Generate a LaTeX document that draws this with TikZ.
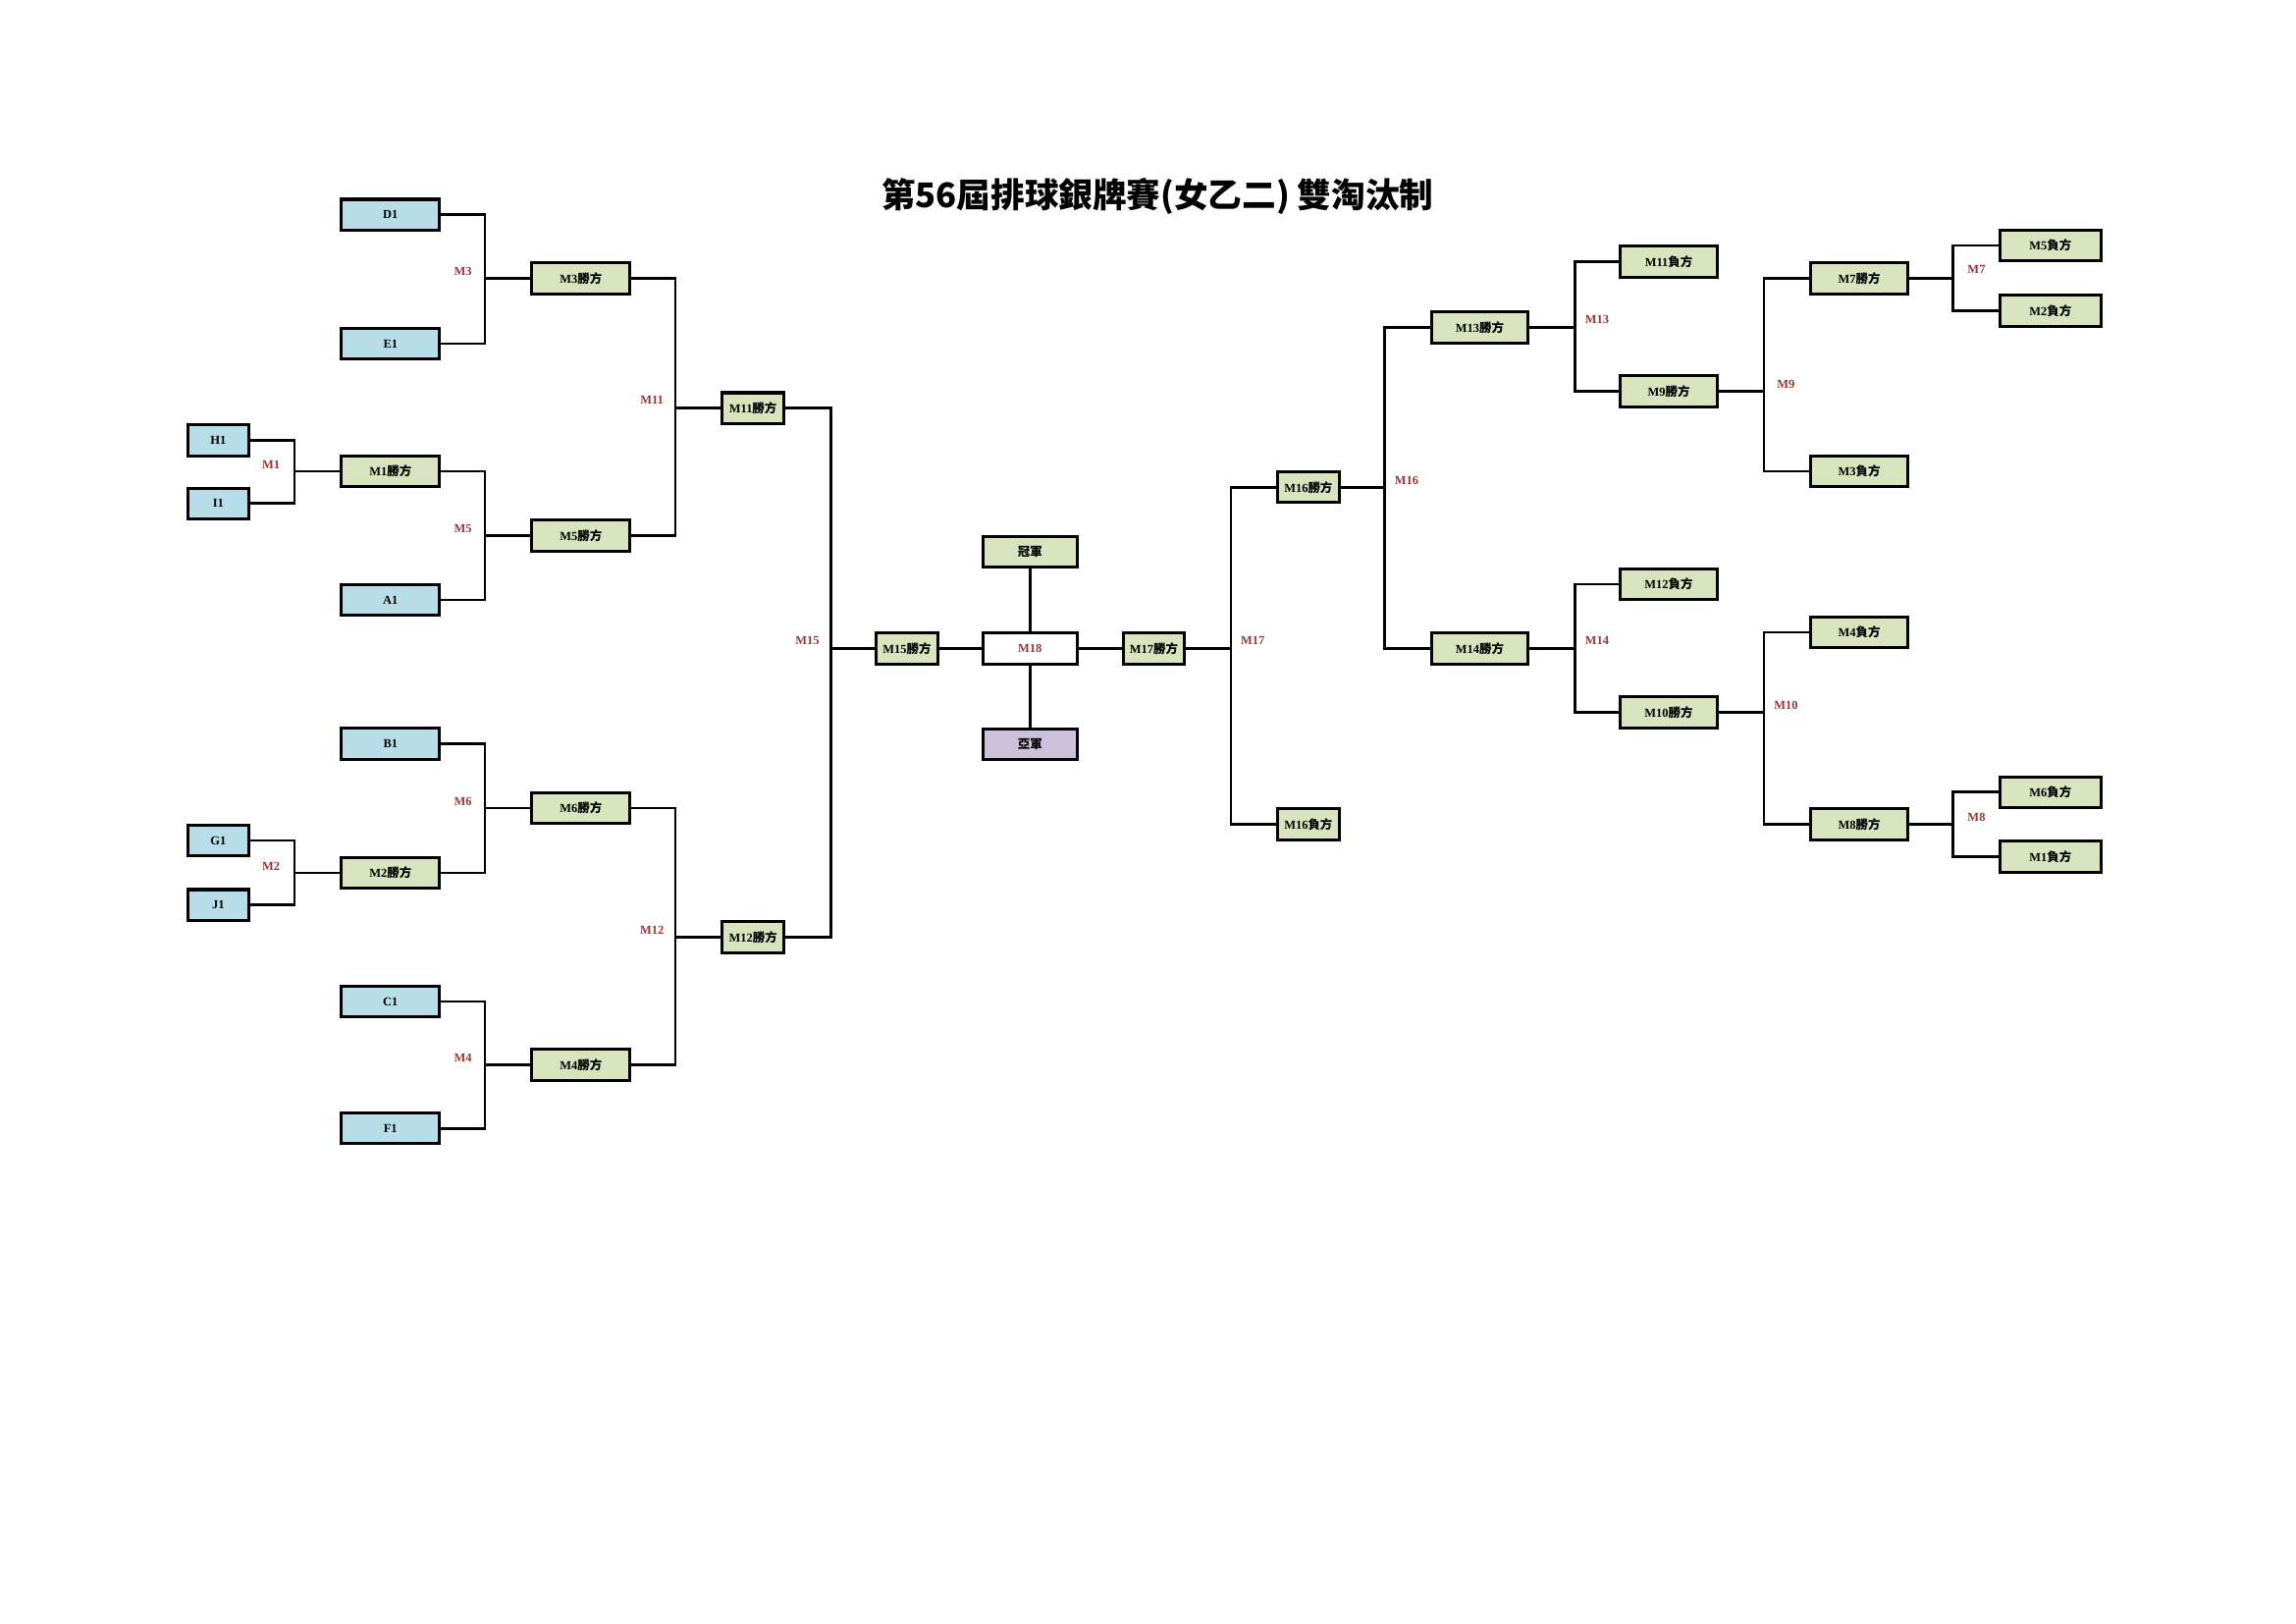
\documentclass[tikz,border=0pt]{standalone}
\usepackage{fontspec}
\setmainfont{Liberation Serif}
\newfontfamily\cjk{Noto Sans CJK TC}
\definecolor{bxblue}{HTML}{B7DEE8}
\definecolor{bxgreen}{HTML}{D7E4BD}
\definecolor{bxpurple}{HTML}{CCC0DA}
\definecolor{labred}{HTML}{953735}
\newcommand\mlab[2]{\textbf{#1}{\cjk\bfseries #2}}
\begin{document}
\begin{tikzpicture}[x=0.18952mm,y=-0.18952mm,
  bx/.style={draw, line width=1.1pt, minimum height=3.98mm, inner sep=0pt,
    font=\fontsize{4.5}{5}\selectfont\bfseries},
  wA/.style={bx, minimum width=12.70mm},
  wN/.style={bx, minimum width=7.96mm},
  wC/.style={bx, minimum width=12.13mm},
  wR/.style={bx, minimum width=12.51mm},
  wE/.style={bx, minimum width=13.08mm},
  team/.style={fill=bxblue},
  win/.style={fill=bxgreen},
  lab/.style={text=labred, font=\fontsize{4.5}{5}\selectfont\bfseries, inner sep=0pt},
  con/.style={line width=0.9pt}
]
\useasboundingbox (0,0) rectangle (1567.1,1108.1);

% title
\node[font=\cjk\bfseries\fontsize{12.5}{14}\selectfont, inner sep=0pt] (title) at (790,134) {第56屆排球銀牌賽(女乙二) 雙淘汰制};

% left: teams
\node[wA,team] (D1) at (266.5,146.5) {D1};
\node[wA,team] (E1) at (266.5,234.5) {E1};
\node[wA,team] (A1) at (266.5,409.5) {A1};
\node[wA,team] (B1) at (266.5,507.5) {B1};
\node[wA,team] (C1) at (266.5,683.5) {C1};
\node[wA,team] (F1) at (266.5,770) {F1};
\node[wN,team] (H1) at (149,300.5) {H1};
\node[wN,team] (I1) at (149,343.5) {I1};
\node[wN,team] (G1) at (149,573.5) {G1};
\node[wN,team] (J1) at (149,617.5) {J1};

% left: winners
\node[wA,win] (M1w) at (266.5,321.5) {\mlab{M1}{勝方}};
\node[wA,win] (M2w) at (266.5,595.5) {\mlab{M2}{勝方}};
\node[wA,win] (M3w) at (396.5,190) {\mlab{M3}{勝方}};
\node[wA,win] (M5w) at (396.5,365.5) {\mlab{M5}{勝方}};
\node[wA,win] (M6w) at (396.5,551.5) {\mlab{M6}{勝方}};
\node[wA,win] (M4w) at (396.5,726.5) {\mlab{M4}{勝方}};
\node[wN,win] (M11w) at (514,278.5) {\mlab{M11}{勝方}};
\node[wN,win] (M12w) at (514,639.5) {\mlab{M12}{勝方}};
\node[wN,win] (M15w) at (619,442.5) {\mlab{M15}{勝方}};

% center
\node[wC,win] (champ) at (703,376.5) {{\cjk\bfseries 冠軍}};
\node[wC,fill=white,text=labred] (M18) at (703,442.5) {M18};
\node[wC,fill=bxpurple] (runner) at (703,508) {{\cjk\bfseries 亞軍}};
\node[wN,win] (M17w) at (787.5,442.5) {\mlab{M17}{勝方}};
\node[wN,win] (M16w) at (893,332.5) {\mlab{M16}{勝方}};
\node[wN,win] (M16l) at (893,562.5) {\mlab{M16}{負方}};

% right
\node[wR,win] (M13w) at (1010,223.5) {\mlab{M13}{勝方}};
\node[wR,win] (M14w) at (1010,442.5) {\mlab{M14}{勝方}};
\node[wR,win] (M11l) at (1139,178.5) {\mlab{M11}{負方}};
\node[wR,win] (M9w) at (1139,267) {\mlab{M9}{勝方}};
\node[wR,win] (M12l) at (1139,398.5) {\mlab{M12}{負方}};
\node[wR,win] (M10w) at (1139,486) {\mlab{M10}{勝方}};
\node[wR,win] (M7w) at (1269,190) {\mlab{M7}{勝方}};
\node[wR,win] (M3l) at (1269,321.5) {\mlab{M3}{負方}};
\node[wR,win] (M4l) at (1269,431.5) {\mlab{M4}{負方}};
\node[wR,win] (M8w) at (1269,562.5) {\mlab{M8}{勝方}};
\node[wE,win] (M5l) at (1399.5,167.5) {\mlab{M5}{負方}};
\node[wE,win] (M2l) at (1399.5,212) {\mlab{M2}{負方}};
\node[wE,win] (M6l) at (1399.5,540.5) {\mlab{M6}{負方}};
\node[wE,win] (M1l) at (1399.5,584.5) {\mlab{M1}{負方}};

% junctions
\coordinate (j1) at (201,321.5);
\coordinate (j2) at (201,595.5);
\coordinate (j3) at (331,190);
\coordinate (j5) at (331,365.5);
\coordinate (j6) at (331,551.5);
\coordinate (j4) at (331,726.5);
\coordinate (j11) at (461,278.5);
\coordinate (j12) at (461,639.5);
\coordinate (j15) at (567,442.5);
\coordinate (j17) at (840,442.5);
\coordinate (j16) at (945,332.5);
\coordinate (j13) at (1075,223.5);
\coordinate (j14) at (1075,442.5);
\coordinate (j9) at (1204,267);
\coordinate (j10) at (1204,486);
\coordinate (j7) at (1333,190);
\coordinate (j8) at (1333,562.5);

% left connectors
\draw[con] (H1.east) -| (j1) |- (I1.east); \draw[con] (j1) -- (M1w.west);
\draw[con] (G1.east) -| (j2) |- (J1.east); \draw[con] (j2) -- (M2w.west);
\draw[con] (D1.east) -| (j3) |- (E1.east); \draw[con] (j3) -- (M3w.west);
\draw[con] (M1w.east) -| (j5) |- (A1.east); \draw[con] (j5) -- (M5w.west);
\draw[con] (B1.east) -| (j6) |- (M2w.east); \draw[con] (j6) -- (M6w.west);
\draw[con] (C1.east) -| (j4) |- (F1.east); \draw[con] (j4) -- (M4w.west);
\draw[con] (M3w.east) -| (j11) |- (M5w.east); \draw[con] (j11) -- (M11w.west);
\draw[con] (M6w.east) -| (j12) |- (M4w.east); \draw[con] (j12) -- (M12w.west);
\draw[con] (M11w.east) -| (j15) |- (M12w.east); \draw[con] (j15) -- (M15w.west);

% center connectors
\draw[con] (M15w.east) -- (M18.west);
\draw[con] (M18.east) -- (M17w.west);
\draw[con] (champ.south) -- (M18.north);
\draw[con] (M18.south) -- (runner.north);

% right connectors
\draw[con] (M16w.west) -| (j17) |- (M16l.west); \draw[con] (M17w.east) -- (j17);
\draw[con] (M13w.west) -| (j16) |- (M14w.west); \draw[con] (M16w.east) -- (j16);
\draw[con] (M11l.west) -| (j13) |- (M9w.west); \draw[con] (M13w.east) -- (j13);
\draw[con] (M12l.west) -| (j14) |- (M10w.west); \draw[con] (M14w.east) -- (j14);
\draw[con] (M7w.west) -| (j9) |- (M3l.west); \draw[con] (M9w.east) -- (j9);
\draw[con] (M4l.west) -| (j10) |- (M8w.west); \draw[con] (M10w.east) -- (j10);
\draw[con] (M5l.west) -| (j7) |- (M2l.west); \draw[con] (M7w.east) -- (j7);
\draw[con] (M6l.west) -| (j8) |- (M1l.west); \draw[con] (M8w.east) -- (j8);

% match labels
\node[lab] (lM1) at (185,317) {M1};
\node[lab] (lM2) at (185,591) {M2};
\node[lab] (lM3) at (316,185) {M3};
\node[lab] (lM5) at (316,361) {M5};
\node[lab] (lM6) at (316,547) {M6};
\node[lab] (lM4) at (316,722) {M4};
\node[lab] (lM11) at (445,273) {M11};
\node[lab] (lM12) at (445,635) {M12};
\node[lab] (lM15) at (551,437) {M15};
\node[lab] (lM17) at (855,437) {M17};
\node[lab] (lM16) at (960,328) {M16};
\node[lab] (lM13) at (1090,218) {M13};
\node[lab] (lM14) at (1090,437) {M14};
\node[lab] (lM9) at (1219,262) {M9};
\node[lab] (lM10) at (1219,481) {M10};
\node[lab] (lM7) at (1349,184) {M7};
\node[lab] (lM8) at (1349,558) {M8};
\end{tikzpicture}
\end{document}
